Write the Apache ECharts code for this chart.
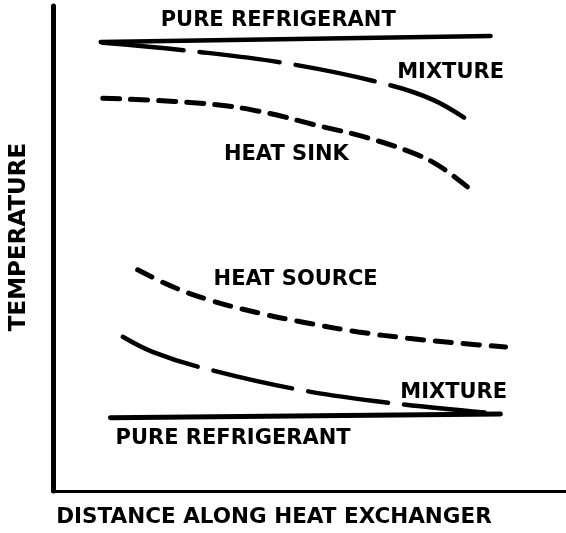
<!DOCTYPE html>
<html>
<head>
<meta charset="utf-8">
<script src="https://cdn.jsdelivr.net/npm/echarts@6/dist/echarts.min.js"></script>
<style>html,body{margin:0;padding:0;background:#fff}#c{width:566px;height:533px}</style>
</head>
<body>
<div id="c"></div>
<script>
// Axis units: distance 0..100, temperature 0..100 (relative)
const pureTopX = [9.3, 85.3];
const pureTopY = [92.6, 93.8];
const mixTopX = [9.7, 27.1, 46.5, 64.9, 74.2, 81.4];
const mixTopY = [92.4, 90.7, 88.0, 83.9, 80.6, 76.1];
const sinkX = [9.7, 30.4, 41.1, 51.0, 61.4, 71.1, 75.6, 80.8];
const sinkY = [81.0, 79.8, 78.1, 75.5, 72.8, 69.3, 66.8, 62.7];
const sourceX = [16.5, 23.8, 30.4, 40.1, 49.8, 59.5, 69.2, 78.9, 88.2];
const sourceY = [45.6, 41.9, 39.4, 36.7, 34.6, 32.8, 31.5, 30.5, 29.7];
const mixBotX = [13.6, 19.4, 29.1, 48.4, 67.8, 87.2];
const mixBotY = [31.8, 28.7, 25.4, 20.8, 17.9, 15.9];
const pureBotX = [11.2, 87.2];
const pureBotY = [15.1, 15.9];
const labelNames = ['PURE REFRIGERANT', 'MIXTURE', 'HEAT SINK', 'HEAT SOURCE', 'MIXTURE', 'PURE REFRIGERANT'];
const labelX = [43.9, 77.5, 45.5, 47.3, 78.1, 35.1];
const labelY = [97.1, 86.2, 69.3, 43.5, 20.4, 10.9];
const xName = 'DISTANCE ALONG HEAT EXCHANGER';
const yName = 'TEMPERATURE';

const zip = (xs, ys) => xs.map((x, i) => [x, ys[i]]);
const FONT = 'DejaVu Sans';

function lineSeries(xs, ys, width, dash, smooth) {
  return {
    type: 'line', data: zip(xs, ys), symbol: 'none', smooth: smooth,
    lineStyle: { color: '#000', width: width, type: dash, cap: 'round' },
    silent: true, animation: false
  };
}

const chart = echarts.init(document.getElementById('c'), null, { renderer: 'canvas' });
chart.setOption({
  backgroundColor: '#fff',
  animation: false,
  grid: { left: 50, right: 0, top: 6, bottom: 42, containLabel: false },
  xAxis: {
    type: 'value', min: 0, max: 100,
    name: xName, nameLocation: 'middle', nameGap: 15,
    nameTextStyle: { fontFamily: FONT, fontWeight: 'bold', fontSize: 21.5, color: '#000', padding: [0, 71, 0, 0] },
    axisLine: { lineStyle: { color: '#000', width: 3 } },
    axisTick: { show: false }, axisLabel: { show: false }, splitLine: { show: false }
  },
  yAxis: {
    type: 'value', min: 0, max: 100,
    name: yName, nameLocation: 'middle', nameGap: 22,
    nameTextStyle: { fontFamily: FONT, fontWeight: 'bold', fontSize: 23, color: '#000', padding: [0, 0, 0, 23] },
    axisLine: { show: true, lineStyle: { color: '#000', width: 5 } },
    axisTick: { show: false }, axisLabel: { show: false }, splitLine: { show: false }
  },
  series: [
    lineSeries(pureTopX, pureTopY, 4.5, 'solid', false),
    lineSeries(mixTopX, mixTopY, 4.5, [81, 16], 0.4),
    lineSeries(sinkX, sinkY, 5, [17, 11], 0.4),
    lineSeries(sourceX, sourceY, 5, [16, 12], 0.4),
    lineSeries(mixBotX, mixBotY, 4.5, [81, 16], 0.4),
    lineSeries(pureBotX, pureBotY, 5, 'solid', false),
    {
      type: 'scatter', symbolSize: 0, silent: true, animation: false,
      itemStyle: { opacity: 1, color: '#000' },
      data: labelNames.map((n, i) => ({ name: n, value: [labelX[i], labelY[i]] })),
      label: {
        show: true, position: 'inside', formatter: p => p.name, opacity: 1,
        fontFamily: FONT, fontWeight: 'bold', fontSize: 21, color: '#000',
        textBorderWidth: 0
      }
    }
  ]
});
</script>
</body>
</html>
